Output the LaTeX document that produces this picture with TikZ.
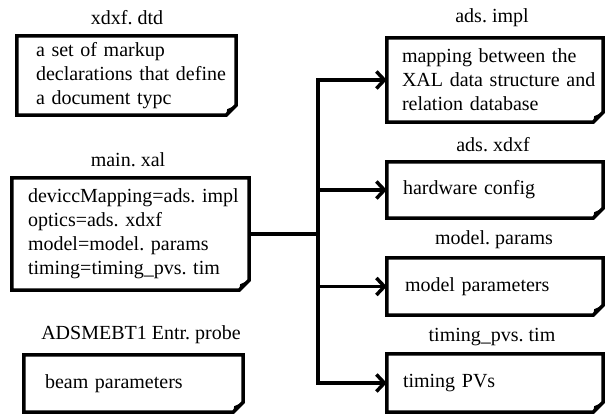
\documentclass[tikz,border=0pt]{standalone}
\usepackage{fontspec}
\setmainfont{Liberation Serif}
\usetikzlibrary{arrows.meta}
\newcommand{\txtline}[1]{\mbox{#1}}
\begin{document}
\begin{tikzpicture}[x=1pt,y=-1pt,
  font=\fontsize{20}{24}\selectfont\frenchspacing,
  docbox/.style={draw=none, align=left, inner ysep=2pt, anchor=center},
  outline/.style={line width=3.5pt, line join=miter},
  lab/.style={inner sep=1pt},
  conn/.style={line width=3.5pt},
  arr/.style={line width=3.5pt, -{Straight Barb[length=8pt,width=17pt,line width=3.5pt]}}]
\useasboundingbox (0,0) rectangle (605,417);
% boxes
\node[docbox, minimum width=219pt, minimum height=79pt, inner xsep=19pt, text width=181pt] (dtd) at (126.5,75.5)
  {\txtline{a set of markup}\\\txtline{declarations that define}\\\txtline{a document typc}};
\node[docbox, minimum width=237pt, minimum height=112pt, inner xsep=16pt, text width=205pt] (main) at (130.5,234)
  {\txtline{deviccMapping=ads. impl}\\\txtline{optics=ads. xdxf}\\\txtline{model=model. params}\\\txtline{timing=timing\_pvs. tim}};
\node[docbox, minimum width=219pt, minimum height=57pt, inner xsep=21pt, text width=177pt] (beam) at (133.5,383.5)
  {\txtline{beam parameters}};
\node[docbox, minimum width=216pt, minimum height=84pt, inner xsep=15pt, text width=186pt] (impl) at (495,80)
  {\txtline{mapping between the}\\\txtline{XAL data structure and}\\\txtline{relation database}};
\node[docbox, minimum width=216pt, minimum height=56pt, inner xsep=16pt, text width=184pt] (xdxf) at (495,190)
  {\txtline{hardware config}};
\node[docbox, minimum width=216pt, minimum height=57pt, inner xsep=18pt, text width=180pt] (params) at (495,286.5)
  {\txtline{model parameters}};
\node[docbox, minimum width=216pt, minimum height=58pt, inner xsep=16pt, text width=184pt] (tim) at (495,383)
  {\txtline{timing PVs}};
% outlines with folded corner
\foreach \n in {dtd,main,beam,impl,xdxf,params,tim}{
  \draw[outline] (\n.north west) -- (\n.north east) -- ([yshift=10pt]\n.south east)
     -- ([xshift=-10pt]\n.south east) -- (\n.south west) -- cycle;
  \fill ([yshift=10pt]\n.south east) -- ([xshift=-10pt]\n.south east)
     -- ([shift={(-9pt,6pt)}]\n.south east) -- cycle;
}
% labels
\node[lab] (dtdlab) at (127,18) {xdxf. dtd};
\node[lab] (mainlab) at (128,160) {main. xal};
\node[lab] (beamlab) at (141,335) {ADSMEBT1 Entr. probe};
\node[lab] (impllab) at (492,18) {ads. impl};
\node[lab] (xdxflab) at (493,145) {ads. xdxf};
\node[lab] (paramslab) at (494,240) {model. params};
\node[lab] (timlab) at (492,337) {timing\_pvs. tim};
% connectors
\coordinate (jn) at (318,233);
\draw[conn] (main.east) -- (jn |- main.east);
\draw[conn, line cap=rect] (jn |- impl.west) -- (jn |- tim.west);
\draw[arr] (jn |- impl.west) -- (impl.west);
\draw[arr] (jn |- xdxf.west) -- (xdxf.west);
\draw[arr] (jn |- params.west) -- (params.west);
\draw[arr] (jn |- tim.west) -- (tim.west);
\end{tikzpicture}
\end{document}
